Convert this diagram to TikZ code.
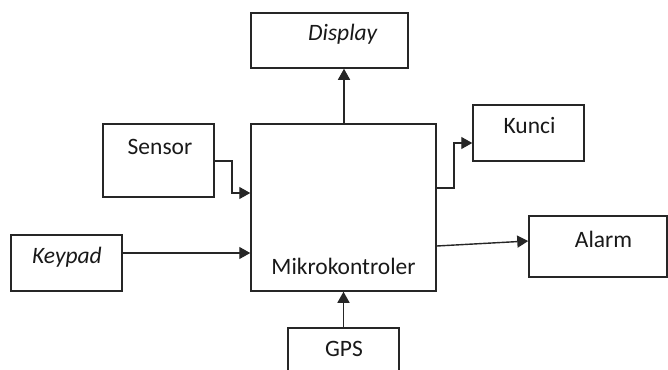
\documentclass[tikz,border=0pt]{standalone}
\usepackage{fontspec}
\setmainfont{Carlito}
\usetikzlibrary{arrows.meta}
\begin{document}
\begin{tikzpicture}[x=1pt,y=-1pt,
  box/.style={draw=black!85,line width=1.5pt,rectangle,inner sep=0pt},
  lbl/.style={inner sep=0pt,font=\fontsize{23.5}{26}\selectfont,text=black!90},
  conn/.style={draw=black!85,line width=1.4pt,-{Triangle[length=11pt,width=12pt]}}]
\useasboundingbox (0,0) rectangle (668,369);
% boxes
\node[box,minimum width=157pt,minimum height=55pt] (display) at (329.5,40.5) {};
\node[box,minimum width=185pt,minimum height=167pt] (mikro) at (343.5,207.5) {};
\node[box,minimum width=111pt,minimum height=73pt] (sensor) at (158.5,160.5) {};
\node[box,minimum width=111pt,minimum height=56pt] (keypad) at (66.5,263) {};
\node[box,minimum width=111pt,minimum height=56pt] (kunci) at (528.5,133) {};
\node[box,minimum width=138pt,minimum height=61pt] (alarm) at (598,246.5) {};
\node[box,minimum width=111pt,minimum height=50pt] (gps) at (343.5,353) {};
% labels
\node[lbl] (tdisp) at (343,34) {\textit{Display}};
\node[lbl] (tmikro) at (343.5,266) {Mikrokontroler};
\node[lbl] (tsensor) at (160,147) {Sensor};
\node[lbl] (tkeypad) at (67,257) {\textit{Keypad}};
\node[lbl] (tkunci) at (529.5,126) {Kunci};
\node[lbl] (talarm) at (603.5,239) {Alarm};
\node[lbl] (tgps) at (344,349) {GPS};
% connectors
\draw[conn] (mikro.north -| 344,0) -- (display.south -| 344,0);
\draw[conn] (gps.north) -- (mikro.south);
\draw[conn] (keypad.east |- 0,253) -- (mikro.west |- 0,253);
\draw[conn] (sensor.east |- 0,161) -| (232,193) -- (mikro.west |- 0,193);
\draw[conn] (mikro.east |- 0,188) -| (454,143) -- (kunci.west |- 0,143);
\draw[conn] (mikro.east |- 0,246) -- (alarm.west |- 0,241);
\end{tikzpicture}
\end{document}
